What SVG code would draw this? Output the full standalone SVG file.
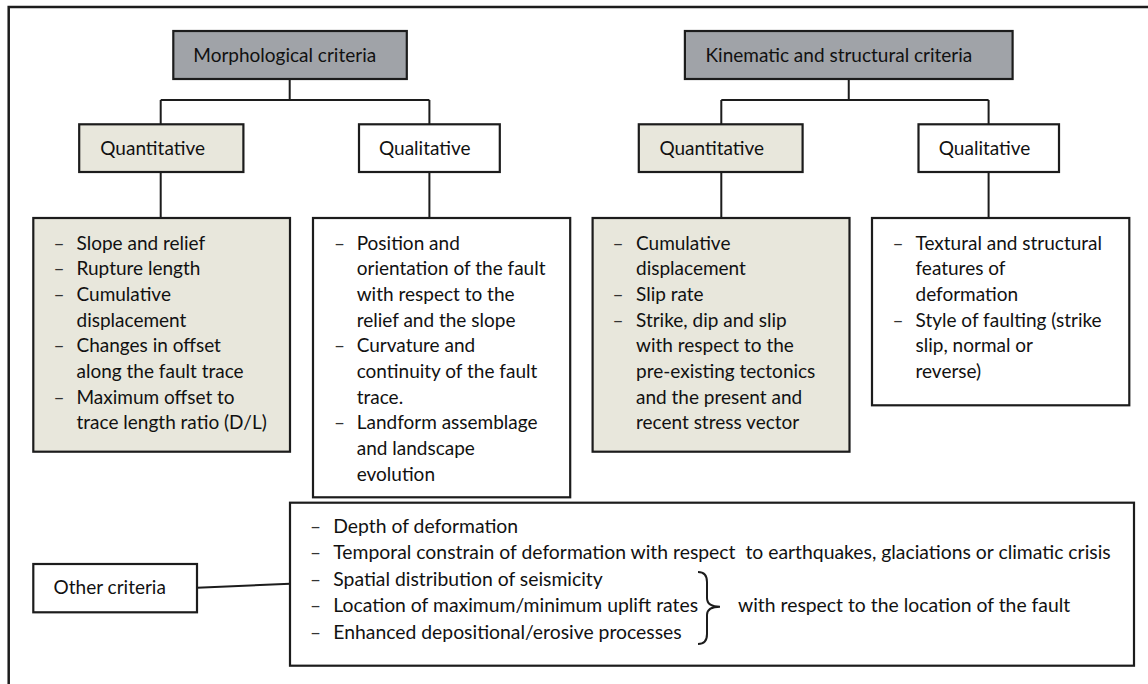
<svg xmlns="http://www.w3.org/2000/svg" width="1148" height="684" viewBox="0 0 1148 684">
<style>
.box{stroke:#1c1c1c;stroke-width:2.2;}
.hdr{fill:#a0a3a8;}
.qnt{fill:#e8e7dc;}
.wht{fill:#ffffff;}
.t{font-family:Lato,"Liberation Sans",sans-serif;font-size:19px;fill:#111111;}
.tb{font-family:Lato,"Liberation Sans",sans-serif;font-size:19.35px;fill:#111111;}
.d{font-family:Lato,"Liberation Sans",sans-serif;font-size:19px;fill:#333333;}
.ln{fill:none;stroke:#1c1c1c;stroke-width:2;}
</style>
<rect width="1148" height="684" fill="#ffffff"/>
<path d="M1148,7 H8.7 V684" fill="none" stroke="#1c1c1c" stroke-width="2.5"/>

<g id="connectors">
<path class="ln" d="M289.7,79 V100 M160.7,100 H429.4 M160.7,100 V124.3 M429.4,100 V124.3 M160.7,172 V218 M429.4,172 V218"/>
<path class="ln" d="M848.75,79 V100 M721.3,100 H988.6 M721.3,100 V124.3 M988.6,100 V124.3 M721.3,172 V218 M988.6,172 V218"/>
<path class="ln" d="M197,587.7 L290,583.7"/>
</g>

<g id="morphological">
<rect class="box hdr" x="173.3" y="31" width="233.5" height="48"/>
<text class="t" x="193.3" y="62">Morphological criteria</text>
</g>
<g id="kinematic">
<rect class="box hdr" x="684.9" y="31" width="327.7" height="48"/>
<text class="t" x="705.5" y="62">Kinematic and structural criteria</text>
</g>

<g id="morph-quantitative">
<rect class="box qnt" x="79.2" y="124.3" width="164.2" height="47.7"/>
<text class="t" x="100.3" y="155">Quantitative</text>
</g>
<g id="morph-qualitative">
<rect class="box wht" x="359" y="124.3" width="140.8" height="47.7"/>
<text class="t" x="379" y="155">Qualitative</text>
</g>
<g id="kin-quantitative">
<rect class="box qnt" x="638.8" y="124.3" width="163.8" height="47.7"/>
<text class="t" x="659.4" y="155">Quantitative</text>
</g>
<g id="kin-qualitative">
<rect class="box wht" x="918.5" y="124.3" width="140.5" height="47.7"/>
<text class="t" x="938.8" y="155">Qualitative</text>
</g>

<g id="morph-quant-list">
<rect class="box qnt" x="33.3" y="218" width="256.7" height="233.7"/>
<text class="d" x="53.6" y="249.5">–</text>
<text class="d" x="53.6" y="275.2">–</text>
<text class="d" x="53.6" y="300.9">–</text>
<text class="d" x="53.6" y="352.3">–</text>
<text class="d" x="53.6" y="403.7">–</text>
<text class="t" x="76.5" y="249.5">Slope and relief</text>
<text class="t" x="76.5" y="275.2">Rupture length</text>
<text class="t" x="76.5" y="300.9">Cumulative</text>
<text class="t" x="76.5" y="326.6">displacement</text>
<text class="t" x="76.5" y="352.3">Changes in offset</text>
<text class="t" x="76.5" y="378">along the fault trace</text>
<text class="t" x="76.5" y="403.7">Maximum offset to</text>
<text class="t" x="76.5" y="429.4">trace length ratio (D/L)</text>
</g>

<g id="morph-qual-list">
<rect class="box wht" x="313" y="218" width="257.2" height="279.3"/>
<text class="d" x="334" y="249.5">–</text>
<text class="d" x="334" y="352.3">–</text>
<text class="d" x="334" y="429.4">–</text>
<text class="t" x="356.7" y="249.5">Position and</text>
<text class="t" x="356.7" y="275.2">orientation of the fault</text>
<text class="t" x="356.7" y="300.9">with respect to the</text>
<text class="t" x="356.7" y="326.6">relief and the slope</text>
<text class="t" x="356.7" y="352.3">Curvature and</text>
<text class="t" x="356.7" y="378">continuity of the fault</text>
<text class="t" x="356.7" y="403.7">trace.</text>
<text class="t" x="356.7" y="429.4">Landform assemblage</text>
<text class="t" x="356.7" y="455.1">and landscape</text>
<text class="t" x="356.7" y="480.8">evolution</text>
</g>

<g id="kin-quant-list">
<rect class="box qnt" x="592.6" y="218" width="256.9" height="233.7"/>
<text class="d" x="612.5" y="249.5">–</text>
<text class="d" x="612.5" y="300.9">–</text>
<text class="d" x="612.5" y="326.6">–</text>
<text class="t" x="636" y="249.5">Cumulative</text>
<text class="t" x="636" y="275.2">displacement</text>
<text class="t" x="636" y="300.9">Slip rate</text>
<text class="t" x="636" y="326.6">Strike, dip and slip</text>
<text class="t" x="636" y="352.3">with respect to the</text>
<text class="t" x="636" y="378">pre-existing tectonics</text>
<text class="t" x="636" y="403.7">and the present and</text>
<text class="t" x="636" y="429.4">recent stress vector</text>
</g>

<g id="kin-qual-list">
<rect class="box wht" x="872" y="218" width="257.3" height="187.3"/>
<text class="d" x="892.6" y="249.5">–</text>
<text class="d" x="892.6" y="326.6">–</text>
<text class="t" x="915.5" y="249.5">Textural and structural</text>
<text class="t" x="915.5" y="275.2">features of</text>
<text class="t" x="915.5" y="300.9">deformation</text>
<text class="t" x="915.5" y="326.6">Style of faulting (strike</text>
<text class="t" x="915.5" y="352.3">slip, normal or</text>
<text class="t" x="915.5" y="378">reverse)</text>
</g>

<g id="other-criteria">
<rect class="box wht" x="33.3" y="564" width="163.7" height="48.3"/>
<text class="t" x="53.6" y="594">Other criteria</text>
</g>

<g id="other-list">
<rect class="box wht" x="290" y="502.7" width="844" height="163"/>
<text class="d" x="310" y="533">–</text>
<text class="d" x="310" y="559.4">–</text>
<text class="d" x="310" y="585.8">–</text>
<text class="d" x="310" y="612.2">–</text>
<text class="d" x="310" y="638.6">–</text>
<text class="tb" x="333.3" y="533">Depth of deformation</text>
<text class="tb" x="333.3" y="559.4" xml:space="preserve">Temporal constrain of deformation with respect  to earthquakes, glaciations or climatic crisis</text>
<text class="tb" x="333.3" y="585.8">Spatial distribution of seismicity</text>
<text class="tb" x="333.3" y="612.2">Location of maximum/minimum uplift rates</text>
<text class="tb" x="333.3" y="638.6">Enhanced depositional/erosive processes</text>
<path class="ln" d="M698,572 C704,572 707,575 707,582 V598 C707,604 712,606.7 720,606.7 C712,606.7 707,609 707,615 V634 C707,641 704,644 698,644"/>
<text class="tb" x="738" y="612.2">with respect to the location of the fault</text>
</g>
</svg>
